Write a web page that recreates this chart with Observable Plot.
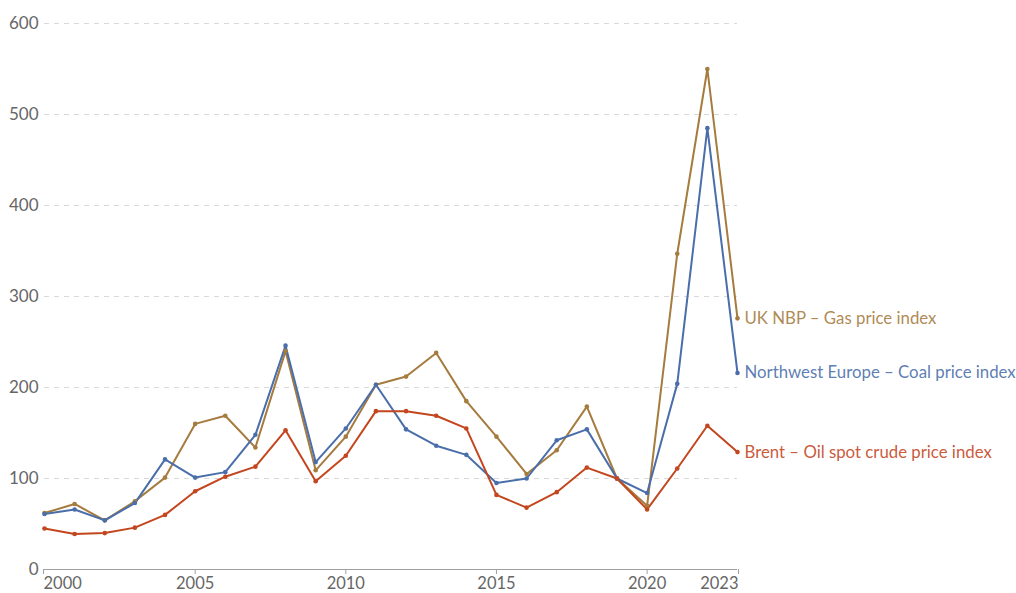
<!DOCTYPE html>
<html>
<head>
<meta charset="utf-8">
<script src="https://cdn.jsdelivr.net/npm/d3@7"></script>
<script src="https://cdn.jsdelivr.net/npm/@observablehq/plot@0.6"></script>
<style>
  html, body { margin: 0; padding: 0; background: #fff; }
  #chart svg { display: block; overflow: visible; }
</style>
</head>
<body>
<div id="chart"></div>
<script>
const years = [2000,2001,2002,2003,2004,2005,2006,2007,2008,2009,2010,2011,2012,2013,2014,2015,2016,2017,2018,2019,2020,2021,2022,2023];
const gas  = [62,72,54,75,101,160,169,134,240,109,146,203,212,238,185,146,105,131,179,100,70,347,550,276];
const coal = [61,66,54,73,121,101,107,148,246,118,155,203,154,136,126,95,100,142,154,100,84,204,485,216];
const oil  = [45,39,40,46,60,86,102,113,153,97,125,174,174,169,155,82,68,85,112,100,66,111,158,129];
const seriesNames = ["UK NBP – Gas price index", "Northwest Europe – Coal price index", "Brent – Oil spot crude price index"];
const seriesColors = ["#a57b3e", "#4a6eaa", "#c3461e"];
const xTicksMid = [2005, 2010, 2015, 2020];
const xTickFirst = [2000];
const xTickLast = [2023];
const yTicks = [0, 100, 200, 300, 400, 500, 600];

const values = [gas, coal, oil];
const rows = [];
values.forEach((vals, i) => vals.forEach((v, j) => rows.push({year: years[j], value: v, series: seriesNames[i]})));
const last = rows.filter(d => d.year === years[years.length - 1]);

const xAxisOpts = {tickFormat: d => String(d), tickSize: 5, tickPadding: 3, stroke: "#a0a0a0", label: null, fontSize: 16.5};

const chart = Plot.plot({
  width: 1016,
  height: 593,
  marginLeft: 44,
  marginRight: 279,
  marginTop: 23,
  marginBottom: 24,
  style: {fontFamily: "Lato, 'Open Sans', sans-serif", fontSize: "17px", color: "#666", background: "#fff"},
  x: {domain: [2000, 2023]},
  y: {domain: [0, 600]},
  color: {domain: seriesNames, range: seriesColors},
  marks: [
    Plot.ruleY(yTicks.filter(d => d > 0), {stroke: "#d9d9d9", strokeWidth: 1, strokeDasharray: "5,5"}),
    Plot.ruleY([0], {stroke: "#a0a0a0", strokeWidth: 1}),
    Plot.axisX({...xAxisOpts, ticks: xTicksMid}),
    Plot.axisX({...xAxisOpts, ticks: xTickFirst, textAnchor: "start", dx: -1}),
    Plot.axisX({...xAxisOpts, ticks: xTickLast, textAnchor: "end", dx: 1}),
    Plot.axisY({ticks: yTicks, tickSize: 0, tickPadding: 6, label: null, fontSize: 17}),
    Plot.line(rows, {x: "year", y: "value", z: "series", stroke: "series", strokeWidth: 2}),
    Plot.dot(rows, {x: "year", y: "value", fill: "series", r: 2.3}),
    Plot.text(last, {x: "year", y: "value", text: "series", fill: "series", textAnchor: "start", dx: 7, fontSize: 16.8, fillOpacity: 0.9})
  ]
});
document.getElementById("chart").appendChild(chart);
</script>
</body>
</html>
